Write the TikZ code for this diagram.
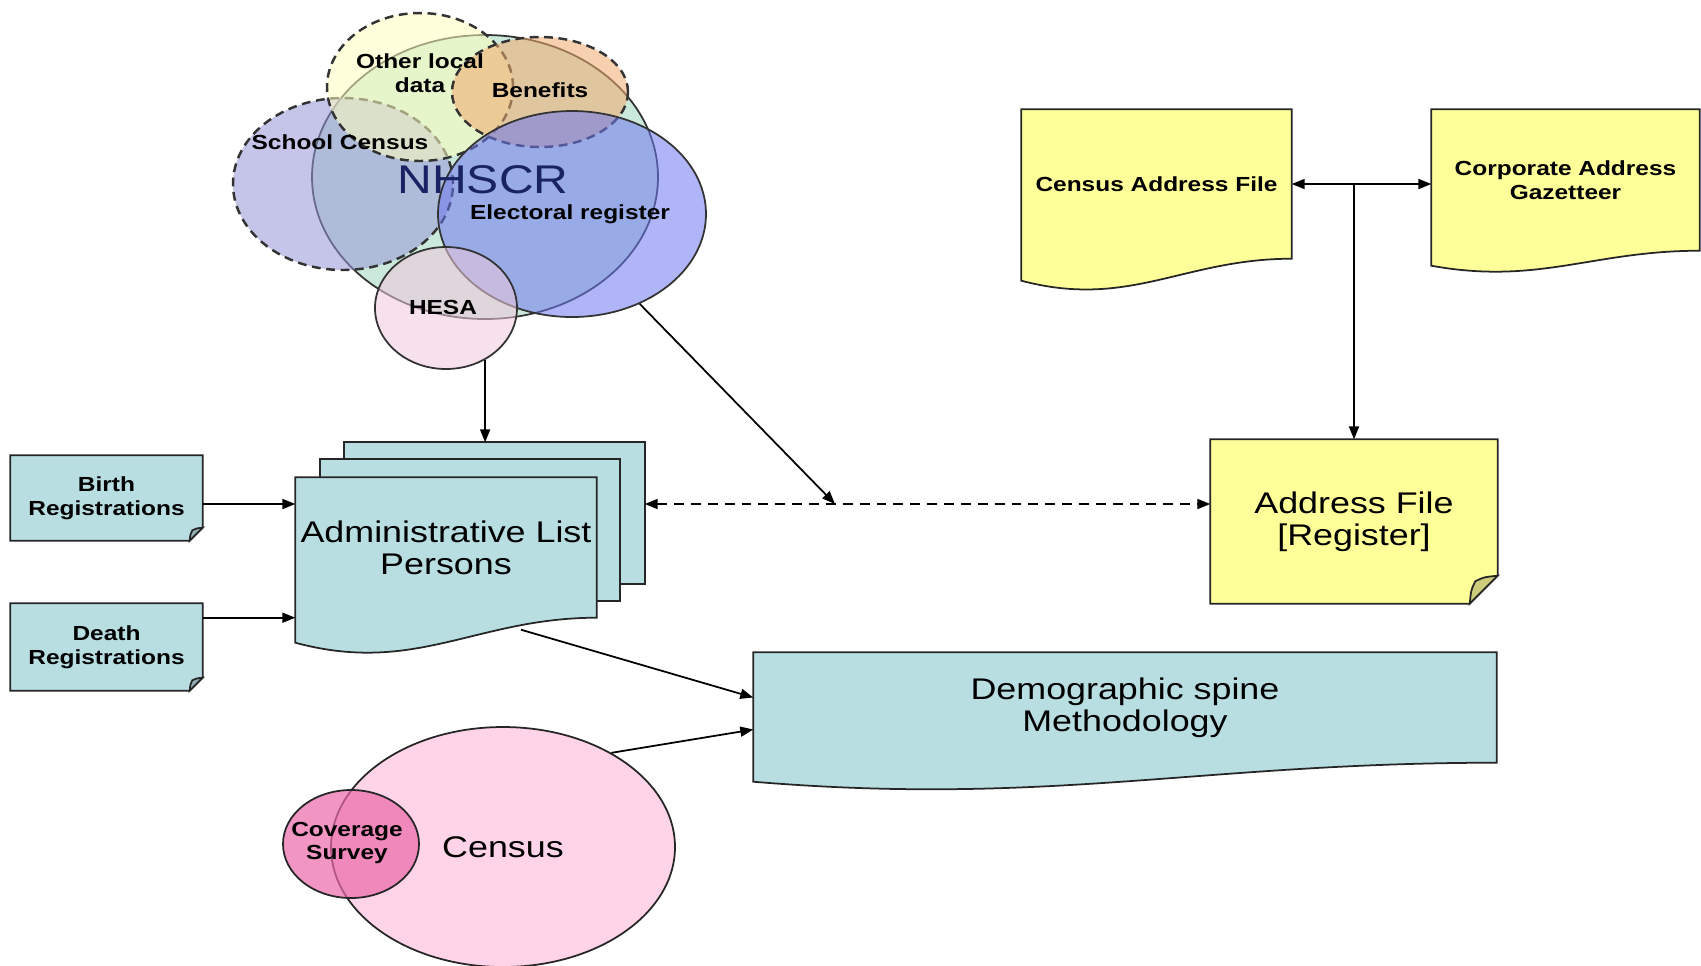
\documentclass[tikz,border=0pt]{standalone}
\usepackage{fontspec}
\setmainfont{Liberation Sans}[FakeStretch=1.2]
\usetikzlibrary{arrows.meta,calc,shapes.geometric,backgrounds}
\definecolor{listblue}{RGB}{184,222,226}
\definecolor{noteyellow}{RGB}{255,255,153}
\definecolor{schoolfill}{RGB}{150,150,215}
\definecolor{otherfill}{RGB}{255,255,190}
\definecolor{benefitfill}{RGB}{240,170,110}
\definecolor{nhsfill}{RGB}{160,215,190}
\definecolor{electfill}{RGB}{110,120,240}
\definecolor{hesafill}{RGB}{240,200,220}
\definecolor{censusfill}{RGB}{255,212,232}
\definecolor{coverfill}{RGB}{235,105,170}
\definecolor{navy}{RGB}{25,35,100}
\newcommand{\docoutline}[3]{%
  \draw[outline,fill=#2] (#1.north west) -- (#1.north east) -- (#1.south east)
    .. controls ($(#1.south east)!0.4!(#1.south west)$) and ($(#1.south east)!0.6!(#1.south west)+(0,2.3*#3)$)
    .. ($(#1.south west)+(0,#3)$) -- cycle;}
\newcommand{\noteoutline}[3]{%
  \draw[outline,fill=#2] (#1.north west) -- (#1.north east) -- ($(#1.south east)+(0,-#3)$)
    -- ($(#1.south east)+(-#3,0)$) -- (#1.south west) -- cycle;
  \draw[outline,fill=#2!80!black] ($(#1.south east)+(0,-#3)$)
    .. controls ($(#1.south east)+(-0.5*#3,-0.95*#3)$) .. ($(#1.south east)+(-0.8*#3,-0.8*#3)$)
    .. controls ($(#1.south east)+(-0.95*#3,-0.5*#3)$) .. ($(#1.south east)+(-#3,0)$) -- cycle;}
\begin{document}
\begin{tikzpicture}[x=0.1mm, y=-0.1mm, line join=round, >={Triangle[length=1.3mm,width=1mm]},
  outline/.style={draw=black!85, line width=0.5pt},
  venn/.style={ellipse, draw=black!80, line width=0.5pt, fill opacity=0.55, inner sep=0pt},
  vennline/.style={dash pattern=on 2.5pt off 1.6pt, line width=0.7pt},
  holder/.style={inner sep=0pt, align=center},
  big/.style={font=\fontsize{8.5}{9.1}\selectfont},
  small/.style={font=\fontsize{5.8}{6.8}\selectfont\bfseries},
  conn/.style={line width=0.5pt, ->}]
 \useasboundingbox (0,0) rectangle (1701,965);
 \node[venn, fill=nhsfill, minimum width=34.6mm, minimum height=28.4mm] (nhscr) at (485,177) {};
 \node[venn, vennline, fill=schoolfill, minimum width=22mm, minimum height=17.2mm] (school) at (343,184) {};
 \node[venn, vennline, fill=otherfill, minimum width=18.6mm, minimum height=14.8mm] (other) at (420,87) {};
 \node[venn, vennline, fill=benefitfill, minimum width=17.6mm, minimum height=11mm] (benefits) at (540,92) {};
 \node[venn, fill=electfill, minimum width=26.8mm, minimum height=20.6mm] (elect) at (572,214) {};
 \node[venn, fill=hesafill, minimum width=14.2mm, minimum height=12.2mm] (hesa) at (446,308) {};
 \node[holder, small] (t-other) at (420,73) {Other local\\data};
 \node[holder, small] (t-benefits) at (540,90) {Benefits};
 \node[holder, small] (t-school) at (340,142) {School Census};
 \node[holder, text=navy, font=\fontsize{11.4}{12}\selectfont] (t-nhscr) at (483,180) {NHSCR};
 \node[holder, small] (t-elect) at (570,214) {Electoral register};
 \node[holder, small] (t-hesa) at (443,307) {HESA};

 \node[holder, minimum width=29.9mm, minimum height=14mm] (adminC) at (494.5,513) {};
 \node[holder, minimum width=29.8mm, minimum height=14mm] (adminB) at (470,530) {};
 \node[holder, big, minimum width=30mm, minimum height=13.9mm] (admin) at (446,547.5) {Administrative List\\Persons};
 \node[holder, small, minimum width=19.1mm, minimum height=8.4mm] (birth) at (106.5,498) {Birth\\Registrations};
 \node[holder, small, minimum width=19.1mm, minimum height=8.6mm] (death) at (106.5,647) {Death\\Registrations};
 \node[holder, big, minimum width=28.6mm, minimum height=16.3mm] (addr) at (1354,521.5) {Address File\\{[Register]}};
 \node[holder, small, minimum width=26.9mm, minimum height=14.8mm] (caf) at (1156.5,184) {Census Address File};
 \node[holder, small, minimum width=26.7mm, minimum height=14mm] (cag) at (1565.5,180) {Corporate Address\\Gazetteer};
 \node[holder, big, minimum width=74.2mm, minimum height=10.9mm] (demo) at (1125,707.5) {Demographic spine\\Methodology};

 \node[ellipse, outline, fill=censusfill, inner sep=0pt, minimum width=34.4mm, minimum height=24mm, big] (census) at (503,847) {Census};
 \node[ellipse, outline, fill=coverfill, fill opacity=0.7, inner sep=0pt,
   minimum width=13.6mm, minimum height=10.8mm] (cover) at (351,844) {};
 \node[holder, small] (t-cover) at (347,843) {Coverage\\Survey};

 \begin{scope}[on background layer]
  \draw[outline, fill=listblue] (adminC.north west) rectangle (adminC.south east);
  \draw[outline, fill=listblue] (adminB.north west) rectangle (adminB.south east);
  \docoutline{admin}{listblue}{25}
  \docoutline{caf}{noteyellow}{22}
  \docoutline{cag}{noteyellow}{15}
  \docoutline{demo}{listblue}{19}
  \noteoutline{birth}{listblue}{13}
  \noteoutline{death}{listblue}{13}
  \noteoutline{addr}{noteyellow}{28}
 \end{scope}

 \coordinate (link) at (835,504);
 \draw[conn] (hesa.-53) -- (hesa.-53 |- adminC.north);
 \draw[conn] (elect.-53) -- (link);
 \draw[conn, <->, dash pattern=on 2.8pt off 2pt] (link -| adminC.east) -- (link -| addr.west);
 \draw[conn] ([shift={(0,6)}]birth.east) -- ([shift={(0,6)}]birth.east -| admin.west);
 \draw[conn] (admin.south west -| death.east) -- (admin.south west);
 \draw[conn, <->] (caf.east) -- (caf.east -| cag.west);
 \draw[conn] (caf.east -| addr.north) -- (addr.north);
 \draw[conn] ([shift={(75,12)}]admin.south) -- ([shift={(0,-10)}]demo.west);
 \draw[conn] (census.41) -- ([shift={(0,22)}]demo.west);
\end{tikzpicture}
\end{document}
